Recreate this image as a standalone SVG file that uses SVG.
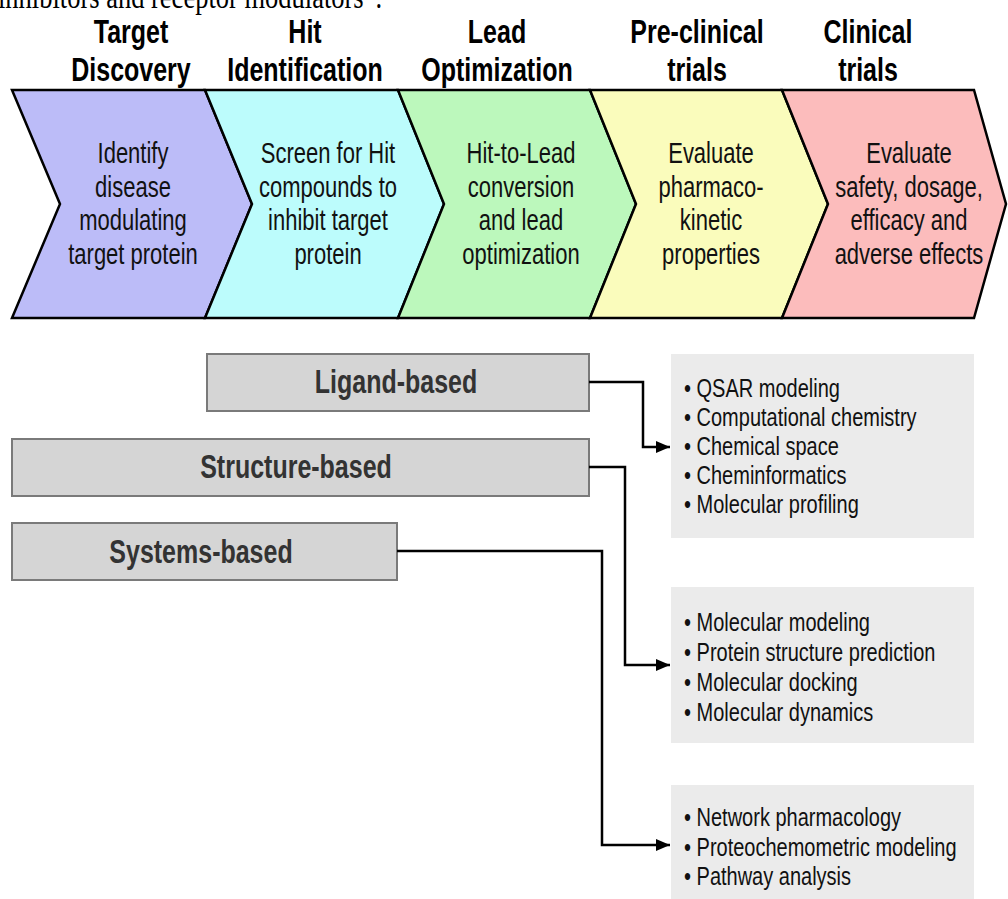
<svg xmlns="http://www.w3.org/2000/svg" width="1008" height="899" viewBox="0 0 1008 899">
<style>
.hdr{font-family:"Liberation Sans",Arial,sans-serif;font-weight:bold;font-size:25px;fill:#000;text-anchor:middle}
.chv{font-family:"Liberation Sans",Arial,sans-serif;font-size:22px;fill:#111;text-anchor:middle}
.lbl{font-family:"Liberation Sans",Arial,sans-serif;font-weight:bold;font-size:25px;fill:#333;text-anchor:middle}
.bul{font-family:"Liberation Sans",Arial,sans-serif;font-size:20px;fill:#111}
.top{font-family:"Liberation Serif","Times New Roman",serif;font-size:26.5px;fill:#000}
.chev{stroke:#000;stroke-width:2.5;stroke-linejoin:miter}
.lbox{fill:#d5d5d5;stroke:#7a7a7a;stroke-width:2}
.rbox{fill:#ebebeb}
.conn{fill:none;stroke:#000;stroke-width:2.5}
</style>
<defs>
<marker id="arr" markerWidth="14" markerHeight="12" refX="14" refY="6" orient="auto" markerUnits="userSpaceOnUse">
<path d="M0,0 L14,6 L0,12 Z" fill="#000"/>
</marker>
</defs>
<rect width="1008" height="899" fill="#fff"/>
<text class="top" transform="translate(-2,8) scale(1,1.25)">inhibitors and receptor modulators”.</text>

<g id="headers">
<text class="hdr" transform="translate(131,43) scale(1,1.3)"><tspan x="0" y="0">Target</tspan><tspan x="0" y="29.5">Discovery</tspan></text>
<text class="hdr" transform="translate(305,43) scale(1,1.3)"><tspan x="0" y="0">Hit</tspan><tspan x="0" y="29.5">Identification</tspan></text>
<text class="hdr" transform="translate(497,43) scale(1,1.3)"><tspan x="0" y="0">Lead</tspan><tspan x="0" y="29.5">Optimization</tspan></text>
<text class="hdr" transform="translate(697,43) scale(1,1.3)"><tspan x="0" y="0">Pre-clinical</tspan><tspan x="0" y="29.5">trials</tspan></text>
<text class="hdr" transform="translate(868,43) scale(1,1.3)"><tspan x="0" y="0">Clinical</tspan><tspan x="0" y="29.5">trials</tspan></text>
</g>

<g id="stage1">
<polygon class="chev" fill="#bcbcf8" points="12,90 205,90 252,204 205,318 12,318 60,204"/>
<text class="chv" transform="translate(133,163) scale(1,1.3)"><tspan x="0" y="0">Identify</tspan><tspan x="0" y="25.8">disease</tspan><tspan x="0" y="51.6">modulating</tspan><tspan x="0" y="77.4">target protein</tspan></text>
</g>
<g id="stage2">
<polygon class="chev" fill="#bcfcfc" points="205,90 398,90 444,204 398,318 205,318 252,204"/>
<text class="chv" transform="translate(328,163) scale(1,1.3)"><tspan x="0" y="0">Screen for Hit</tspan><tspan x="0" y="25.8">compounds to</tspan><tspan x="0" y="51.6">inhibit target</tspan><tspan x="0" y="77.4">protein</tspan></text>
</g>
<g id="stage3">
<polygon class="chev" fill="#bcf8bc" points="398,90 590,90 636,204 590,318 398,318 444,204"/>
<text class="chv" transform="translate(521,163) scale(1,1.3)"><tspan x="0" y="0">Hit-to-Lead</tspan><tspan x="0" y="25.8">conversion</tspan><tspan x="0" y="51.6">and lead</tspan><tspan x="0" y="77.4">optimization</tspan></text>
</g>
<g id="stage4">
<polygon class="chev" fill="#fafcbc" points="590,90 782,90 828,204 782,318 590,318 636,204"/>
<text class="chv" transform="translate(711,163) scale(1,1.3)"><tspan x="0" y="0">Evaluate</tspan><tspan x="0" y="25.8">pharmaco-</tspan><tspan x="0" y="51.6">kinetic</tspan><tspan x="0" y="77.4">properties</tspan></text>
</g>
<g id="stage5">
<polygon class="chev" fill="#fcbcbc" points="782,90 974,90 1006,204 974,318 782,318 828,204"/>
<text class="chv" transform="translate(909,163) scale(1,1.3)"><tspan x="0" y="0">Evaluate</tspan><tspan x="0" y="25.8">safety, dosage,</tspan><tspan x="0" y="51.6">efficacy and</tspan><tspan x="0" y="77.4">adverse effects</tspan></text>
</g>

<g id="ligand">
<rect class="lbox" x="207" y="354" width="382" height="57"/>
<text class="lbl" transform="translate(396,393) scale(1,1.3)">Ligand-based</text>
</g>
<g id="structure">
<rect class="lbox" x="12" y="439" width="577" height="57"/>
<text class="lbl" transform="translate(296,478) scale(1,1.3)">Structure-based</text>
</g>
<g id="systems">
<rect class="lbox" x="12" y="523" width="385" height="57"/>
<text class="lbl" transform="translate(201,563) scale(1,1.3)">Systems-based</text>
</g>

<g id="ligand-methods">
<rect class="rbox" x="671" y="354" width="303" height="184"/>
<text class="bul" transform="translate(684,397) scale(1,1.3)"><tspan x="0" y="0">• QSAR modeling</tspan><tspan x="0" y="22.3">• Computational chemistry</tspan><tspan x="0" y="44.6">• Chemical space</tspan><tspan x="0" y="66.9">• Cheminformatics</tspan><tspan x="0" y="89.2">• Molecular profiling</tspan></text>
</g>
<g id="structure-methods">
<rect class="rbox" x="671" y="587" width="303" height="156"/>
<text class="bul" transform="translate(684,631) scale(1,1.3)"><tspan x="0" y="0">• Molecular modeling</tspan><tspan x="0" y="23">• Protein structure prediction</tspan><tspan x="0" y="46">• Molecular docking</tspan><tspan x="0" y="69">• Molecular dynamics</tspan></text>
</g>
<g id="systems-methods">
<rect class="rbox" x="671" y="785" width="303" height="114"/>
<text class="bul" transform="translate(684,826) scale(1,1.3)"><tspan x="0" y="0">• Network pharmacology</tspan><tspan x="0" y="23">• Proteochemometric modeling</tspan><tspan x="0" y="45.4">• Pathway analysis</tspan></text>
</g>

<g id="connectors">
<polyline class="conn" points="589,382 643,382 643,447 670,447" marker-end="url(#arr)"/>
<polyline class="conn" points="589,467 625,467 625,665 670,665" marker-end="url(#arr)"/>
<polyline class="conn" points="397,551 602,551 602,845 670,845" marker-end="url(#arr)"/>
</g>
</svg>
